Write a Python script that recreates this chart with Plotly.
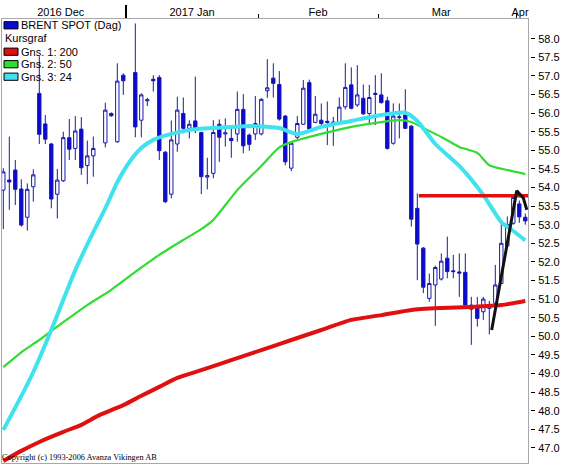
import plotly.graph_objects as go
import pandas as pd

# ---------------- data ----------------
dates = [
    "2016-12-02", "2016-12-05", "2016-12-06", "2016-12-07", "2016-12-08", "2016-12-09",
    "2016-12-12", "2016-12-13", "2016-12-14", "2016-12-15", "2016-12-16",
    "2016-12-19", "2016-12-20", "2016-12-21", "2016-12-22", "2016-12-23",
    "2016-12-26", "2016-12-27", "2016-12-28", "2016-12-29", "2016-12-30",
    "2017-01-02", "2017-01-03", "2017-01-04", "2017-01-05", "2017-01-06",
    "2017-01-09", "2017-01-10", "2017-01-11", "2017-01-12", "2017-01-13",
    "2017-01-16", "2017-01-17", "2017-01-18", "2017-01-19", "2017-01-20",
    "2017-01-23", "2017-01-24", "2017-01-25", "2017-01-26", "2017-01-27",
    "2017-01-30", "2017-01-31",
    "2017-02-01", "2017-02-02", "2017-02-03",
    "2017-02-06", "2017-02-07", "2017-02-08", "2017-02-09", "2017-02-10",
    "2017-02-13", "2017-02-14", "2017-02-15", "2017-02-16", "2017-02-17",
    "2017-02-20", "2017-02-21", "2017-02-22", "2017-02-23", "2017-02-24",
    "2017-02-27", "2017-02-28",
    "2017-03-01", "2017-03-02", "2017-03-03",
    "2017-03-06", "2017-03-07", "2017-03-08", "2017-03-09", "2017-03-10",
    "2017-03-13", "2017-03-14", "2017-03-15", "2017-03-16", "2017-03-17",
    "2017-03-20", "2017-03-21", "2017-03-22", "2017-03-23", "2017-03-24",
    "2017-03-27", "2017-03-28", "2017-03-29", "2017-03-30", "2017-03-31",
    "2017-04-03", "2017-04-04",
]

open_ = [
    53.93, 54.20, 54.47, 53.96, 53.20, 54.02,
    56.53, 55.71, 55.17, 53.82, 54.18,
    55.34, 55.05, 55.57, 54.59, 54.85,
    None, 55.20, 55.99, 55.23, 57.02,
    None, 57.09, 55.81, 56.33, 56.91,
    56.96, 54.95, 53.82, 55.17, 55.99,
    55.59, 55.79, 55.48, 54.28, 54.38,
    55.70, 55.44, 55.32, 55.44, 56.10,
    55.41, 55.44,
    55.44, 56.60, 56.94,
    56.77, 55.92, 54.52, 55.35, 55.70,
    56.82, 55.75, 55.81, 55.78, 55.76,
    55.75, 56.17, 56.76, 56.22, 56.40,
    55.99, 56.50,
    56.49, 56.33, 55.19,
    55.88, 55.95, 55.65, 53.44, 52.37,
    51.02, 51.38, 51.54, 52.10, 51.76,
    51.73, 51.72, 50.84, 50.80, 50.66,
    50.75, 50.89, 51.42, 52.43, 53.04,
    53.56, 53.20,
]
high = [
    54.52, 55.37, 54.74, 54.22, 54.11, 54.49,
    57.53, 55.95, 55.20, 54.50, 55.50,
    55.84, 55.92, 55.89, 55.26, 55.37,
    None, 56.28, 56.02, 57.34, 57.07,
    None, 58.41, 56.53, 56.41, 57.02,
    57.02, 54.98, 55.80, 56.44, 56.42,
    55.81, 56.98, 55.50, 54.80, 55.81,
    55.83, 55.86, 55.59, 56.58, 56.51,
    55.45, 56.46,
    56.40, 57.45, 57.34,
    57.13, 55.95, 55.22, 55.92, 56.89,
    56.90, 56.46, 56.26, 56.31, 55.90,
    56.42, 57.34, 57.23, 57.29, 56.77,
    56.76, 57.02,
    57.07, 56.44, 56.26,
    56.26, 56.64, 55.68, 53.84, 52.40,
    51.69, 51.90, 52.23, 52.68, 52.19,
    52.23, 52.23, 51.06, 51.06, 51.06,
    50.95, 51.92, 53.04, 53.22, 53.80,
    53.65, 53.30,
]
low = [
    52.88, 53.40, 53.53, 52.95, 52.84, 53.62,
    55.17, 55.17, 53.44, 53.17, 54.15,
    54.74, 54.74, 54.34, 54.09, 54.29,
    None, 55.08, 55.90, 55.20, 56.49,
    None, 55.35, 55.35, 56.19, 56.58,
    54.74, 53.58, 53.71, 54.96, 55.46,
    55.32, 55.46, 53.82, 53.95, 54.25,
    54.69, 55.10, 54.80, 55.23, 54.92,
    54.99, 55.28,
    55.40, 56.41, 56.42,
    55.80, 54.60, 54.44, 55.30, 55.68,
    55.55, 55.73, 55.62, 55.14, 55.12,
    55.70, 56.10, 56.10, 56.17, 55.95,
    55.68, 55.68,
    56.26, 55.02, 55.15,
    55.32, 55.57, 52.95, 51.51, 51.16,
    50.93, 50.28, 51.50, 51.56, 51.56,
    51.06, 50.80, 49.77, 50.26, 50.44,
    50.05, 50.80, 51.40, 52.40, 53.00,
    53.05, 53.00,
]
close = [
    54.42, 54.15, 53.95, 52.99, 53.95, 54.34,
    55.43, 55.30, 53.69, 54.20, 55.34,
    55.03, 55.52, 54.53, 54.85, 55.05,
    None, 56.08, 55.93, 56.86, 56.87,
    None, 55.63, 56.49, 56.36, 56.87,
    54.99, 53.62, 55.28, 56.08, 55.59,
    55.70, 55.59, 54.29, 54.32, 55.48,
    55.35, 55.47, 55.26, 56.10, 55.12,
    55.16, 55.72,
    56.37, 56.68, 56.80,
    55.84, 54.69, 55.19, 55.72, 56.67,
    55.57, 55.97, 55.72, 55.75, 55.73,
    56.16, 56.69, 56.13, 56.49, 55.98,
    56.42, 56.53,
    56.28, 55.05, 55.92,
    55.90, 55.59, 53.15, 52.48, 51.32,
    51.42, 51.85, 52.02, 51.74, 51.74,
    51.70, 50.84, 50.73, 50.48, 51.00,
    50.85, 51.38, 52.50, 53.00, 53.73,
    53.21, 53.10,
]

# moving averages
ma200_dates = ["2016-12-02", "2016-12-07", "2016-12-12", "2016-12-16", "2016-12-21",
               "2016-12-26", "2016-12-30", "2017-01-04", "2017-01-09", "2017-01-12",
               "2017-01-18", "2017-01-25", "2017-02-01", "2017-02-08", "2017-02-15",
               "2017-02-22", "2017-03-01", "2017-03-08", "2017-03-15", "2017-03-22",
               "2017-03-29", "2017-04-04"]
ma200 = [46.65, 46.92, 47.16, 47.43, 47.62, 47.88, 48.15, 48.40, 48.64, 48.88,
         49.09, 49.36, 49.63, 49.90, 50.17, 50.44, 50.57, 50.71, 50.76, 50.79,
         50.84, 50.95]

ma50_dates = ["2016-12-02", "2016-12-07", "2016-12-12", "2016-12-16", "2016-12-22",
              "2016-12-28", "2017-01-03", "2017-01-09", "2017-01-13", "2017-01-18",
              "2017-01-20", "2017-01-26", "2017-02-01", "2017-02-06", "2017-02-08",
              "2017-02-14", "2017-02-22", "2017-03-01", "2017-03-06", "2017-03-08",
              "2017-03-10", "2017-03-15", "2017-03-20", "2017-03-23", "2017-03-27",
              "2017-03-30", "2017-04-04"]
ma50 = [49.17, 49.57, 49.90, 50.38, 50.84, 51.25, 51.73, 52.19, 52.59, 52.88,
        53.13, 53.93, 54.58, 55.08, 55.22, 55.40, 55.63, 55.76, 55.81, 55.76,
        55.60, 55.36, 55.09, 54.93, 54.60, 54.47, 54.36]

ma24_dates = ["2016-12-02", "2016-12-07", "2016-12-09", "2016-12-14", "2016-12-16",
              "2016-12-20", "2016-12-23", "2016-12-27", "2016-12-29", "2017-01-02",
              "2017-01-04", "2017-01-06", "2017-01-11", "2017-01-17", "2017-01-25",
              "2017-01-31", "2017-02-06", "2017-02-09", "2017-02-15", "2017-02-22",
              "2017-03-01", "2017-03-07", "2017-03-09", "2017-03-14", "2017-03-20",
              "2017-03-24", "2017-03-29", "2017-03-31", "2017-04-04"]
ma24 = [47.48, 48.39, 49.04, 50.17, 50.98, 51.78, 52.80, 53.44, 54.14, 54.68,
        55.06, 55.28, 55.44, 55.57, 55.63, 55.65, 55.60, 55.44, 55.63, 55.79,
        55.95, 56.01, 55.79, 55.17, 54.58, 53.80, 53.07, 52.83, 52.58]

# hand-drawn annotation lines
resistance_dates = ["2017-03-09 18:00", "2017-04-05 00:00"]
resistance = [53.78, 53.78]
trend_dates = ["2017-03-27 21:30", "2017-04-03 01:40", "2017-04-04 04:00", "2017-04-04 18:00"]
trend = [50.17, 53.91, 53.72, 53.40]

legend_names = ["BRENT SPOT (Dag)", "Kursgraf", "Gns. 1: 200", "Gns. 2: 50", "Gns. 3: 24"]
month_labels = ["2016 Dec", "2017 Jan", "Feb", "Mar", "Apr"]
y_ticks = [47.0 + 0.5 * i for i in range(23)]

# ---------------- figure ----------------
FONT = "Liberation Sans, Arial, sans-serif"
FS = 11
BLUE_FILL = "#0a0ad8"
BLUE_LINE = "#1818b0"
RED = "#e01010"
GREEN = "#30dd30"
CYAN = "#40e2ee"

W, H = 564, 465
ML, MR, MT, MB = 2, 0, 19, 2
PW, PH = W - ML - MR, H - MT - MB
PLOT_RIGHT = 528
dom_end = (PLOT_RIGHT - ML) / PW


def px(x):
    return (x - ML) / PW


def py(y):
    return (H - MB - y) / PH


def noon(ds):
    return pd.to_datetime(ds) + pd.Timedelta(hours=12)


fig = go.Figure()

fig.add_trace(go.Candlestick(
    x=noon(dates), open=open_, high=high, low=low, close=close,
    increasing=dict(line=dict(color=BLUE_LINE, width=1), fillcolor="#ffffff"),
    decreasing=dict(line=dict(color=BLUE_LINE, width=1), fillcolor=BLUE_FILL),
    whiskerwidth=0, showlegend=False, name=legend_names[0],
))

fig.add_trace(go.Scatter(x=noon(ma200_dates), y=ma200, mode="lines",
                         line=dict(color=RED, width=4, shape="spline", smoothing=0.6),
                         showlegend=False, name=legend_names[2]))
fig.add_trace(go.Scatter(x=noon(ma50_dates), y=ma50, mode="lines",
                         line=dict(color=GREEN, width=2.2, shape="spline", smoothing=0.6),
                         showlegend=False, name=legend_names[3]))
fig.add_trace(go.Scatter(x=noon(ma24_dates), y=ma24, mode="lines",
                         line=dict(color=CYAN, width=4, shape="spline", smoothing=0.6),
                         showlegend=False, name=legend_names[4]))

fig.add_trace(go.Scatter(x=pd.to_datetime(resistance_dates), y=resistance, mode="lines",
                         line=dict(color=RED, width=3.5), showlegend=False))
fig.add_trace(go.Scatter(x=pd.to_datetime(trend_dates), y=trend, mode="lines",
                         line=dict(color="#111111", width=3), showlegend=False))

x_range = [pd.Timestamp("2016-12-02 06:48"), pd.Timestamp("2017-04-04 22:48")]
breaks = [dict(bounds=["sat", "mon"])]
y_range = [46.594, 58.53]

boundary_ticks = [pd.Timestamp("2017-02-01"), pd.Timestamp("2017-03-01"), pd.Timestamp("2017-04-03")]
year_tick = [pd.Timestamp("2017-01-02")]
label_pos = [pd.Timestamp("2016-12-16 02:00"), pd.Timestamp("2017-01-16 23:00"),
             pd.Timestamp("2017-02-14 23:00"), pd.Timestamp("2017-03-15 12:00"),
             pd.Timestamp("2017-04-03 15:00")]

common_x = dict(type="date", range=x_range, rangebreaks=breaks, domain=[0, dom_end],
                showgrid=False, zeroline=False, automargin=False)

fig.update_layout(
    width=W, height=H,
    margin=dict(l=ML, r=MR, t=MT, b=MB, autoexpand=False),
    paper_bgcolor="white", plot_bgcolor="white",
    font=dict(family=FONT, size=FS, color="black"),
    showlegend=False,
    boxgap=0.2,
    xaxis=dict(**common_x, side="top", showline=True, linecolor="#a8a8a8", linewidth=1,
               mirror=True, ticks="outside", ticklen=4, tickwidth=1, tickcolor="black",
               tickmode="array", tickvals=boundary_ticks, showticklabels=False,
               rangeslider=dict(visible=False)),
    xaxis2=dict(**common_x, overlaying="x", side="top", anchor="y", showline=False,
                ticks="outside", ticklen=13, tickwidth=2, tickcolor="black",
                tickmode="array", tickvals=year_tick, showticklabels=False),
    xaxis3=dict(**common_x, overlaying="x", side="top", anchor="y", showline=False,
                ticks="", tickmode="array", tickvals=label_pos, ticktext=month_labels,
                tickfont=dict(family=FONT, size=FS, color="black")),
    yaxis=dict(range=y_range, side="right", showline=True, linecolor="#a8a8a8",
               linewidth=1, mirror=True, showgrid=False, zeroline=False,
               showticklabels=False, ticks="", automargin=False),
    yaxis2=dict(range=y_range, overlaying="y", side="right", anchor="free",
                position=px(530), showline=False, showgrid=False, zeroline=False,
                automargin=False,
                ticks="outside", ticklen=4, tickwidth=1, tickcolor="black",
                tickmode="array", tickvals=y_ticks, ticktext=[f"{v:.1f}" for v in y_ticks],
                ticklabelstandoff=1,
                tickfont=dict(family=FONT, size=FS, color="black")),
)

# dummy traces so overlay axes render
fig.add_trace(go.Scatter(x=[x_range[0]], y=[None], xaxis="x2", yaxis="y", showlegend=False,
                         hoverinfo="skip"))
fig.add_trace(go.Scatter(x=[x_range[0]], y=[None], xaxis="x3", yaxis="y", showlegend=False,
                         hoverinfo="skip"))
fig.add_trace(go.Scatter(x=[x_range[0]], y=[None], xaxis="x", yaxis="y2", showlegend=False,
                         hoverinfo="skip"))

# legend drawn like the original (swatch + text rows)
swatch_colors = [BLUE_FILL, None, RED, GREEN, CYAN]
row_centers = [25.3, 38.3, 51.7, 64.2, 76.7]
for name, col, yc in zip(legend_names, swatch_colors, row_centers):
    if col is not None:
        fig.add_shape(type="rect", xref="paper", yref="paper",
                      x0=px(4), x1=px(18), y0=py(yc - 3.6), y1=py(yc + 3.6),
                      fillcolor=col, line=dict(color="black", width=1))
        tx = 20
    else:
        tx = 3.5
    fig.add_annotation(x=px(tx), y=py(yc), xref="paper", yref="paper", text=name,
                       showarrow=False, xanchor="left", yanchor="middle", borderpad=0,
                       height=12, valign="middle",
                       font=dict(family=FONT, size=FS, color="black"))

fig.add_annotation(x=px(1), y=py(457.5), xref="paper", yref="paper",
                   text="Copyright (c) 1993-2006 Avanza Vikingen AB", showarrow=False,
                   xanchor="left", yanchor="middle", borderpad=0,
                   font=dict(family="Liberation Serif, Times New Roman, serif", size=8.3,
                             color="black"))

fig.write_html("out.html", config={"displayModeBar": False},
               post_script="document.body.style.margin='0px';")
